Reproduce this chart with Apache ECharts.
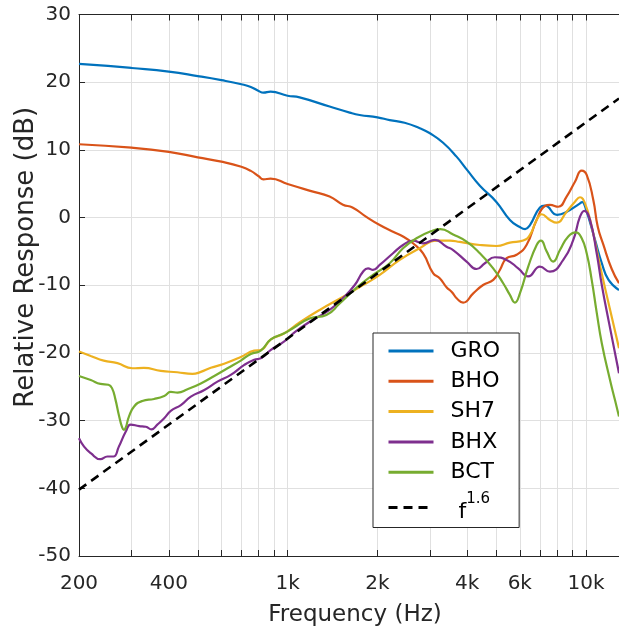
<!DOCTYPE html>
<html><head><meta charset="utf-8">
<script src="https://cdn.jsdelivr.net/npm/echarts@6/dist/echarts.min.js"></script>
<style>html,body{margin:0;padding:0;background:#fff}#c{width:619px;height:630px}</style>
</head><body><div id="c"></div>
<script>
const seriesNames = ['GRO','BHO','SH7','BHX','BCT','f1.6'];
const seriesColors = ['#0072BD','#D95319','#EDB120','#7E2F8E','#77AC30','#000000'];
const xLabelValues = [200,400,1000,2000,4000,6000,10000];
const xGridValues = [200,300,400,500,600,700,800,900,1000,2000,3000,4000,5000,6000,7000,8000,9000,10000];
const yMin = -50, yMax = 30, yStep = 10;
const xMin = 200, xMax = 12900;

const GRO = [[200,22.7],[250,22.4],[300,22.1],[400,21.55],[500,20.9],[600,20.3],[700,19.7],[753,19.3],[800,18.7],[830,18.45],[877,18.6],[1000,18.0],[1097,17.75],[1383,16.4],[1615,15.5],[1743,15.15],[2000,14.8],[2199,14.4],[2467,14.0],[2773,13.2],[3000,12.45],[3320,11.05],[3683,9.0],[4000,7.0],[4409,4.7],[5000,2.35],[5560,-0.35],[6000,-1.4],[6250,-1.7],[6490,-1.1],[7010,1.5],[7285,1.76],[8000,0.4],[8500,0.7],[9550,2.1],[9700,2.3],[9920,1.7],[10720,-3.3],[11300,-6.75],[11900,-9.2],[12900,-10.7]];
const BHO = [[200,10.83],[300,10.33],[400,9.7],[500,8.9],[600,8.26],[700,7.5],[753,6.9],[800,6.1],[830,5.65],[877,5.75],[1000,4.95],[1200,3.9],[1383,3.1],[1533,1.9],[1650,1.5],[1836,0.1],[2036,-1.1],[2256,-2.1],[2437,-2.8],[2633,-3.8],[2845,-5.3],[3073,-8.2],[3240,-9.0],[3409,-10.3],[3550,-11.0],[3700,-12.0],[3876,-12.57],[4190,-11.2],[4520,-9.96],[4890,-9.2],[5145,-7.74],[5420,-6.0],[5850,-5.5],[6320,-4.05],[6830,-0.35],[7285,1.71],[7570,1.86],[8070,1.6],[8610,3.1],[9185,5.3],[9674,6.93],[10053,6.3],[10580,2.6],[10950,-1.35],[11432,-4.0],[12196,-7.6],[12900,-9.7]];
const SH7 = [[200,-19.8],[219,-20.44],[242,-21.13],[269,-21.5],[302,-22.26],[330,-22.2],[376,-22.66],[427,-22.85],[480,-23.1],[512,-22.8],[553,-22.2],[613,-21.6],[697,-20.6],[773,-19.66],[813,-19.56],[879,-18.0],[975,-17.1],[1097,-15.5],[1281,-13.65],[1574,-11.43],[1836,-9.7],[2036,-8.48],[2376,-6.26],[2773,-4.53],[3155,-3.4],[3497,-3.4],[3778,-3.6],[4409,-4.05],[5015,-4.2],[5559,-3.7],[6160,-3.4],[6487,-2.57],[6834,-0.35],[7101,0.49],[7570,-0.35],[7972,-0.75],[8613,0.87],[9185,2.35],[9547,3.0],[9923,2.1],[10450,-1.35],[11143,-7.1],[12036,-13.6],[12900,-19.3]];
const BHX = [[200,-32.6],[208,-33.84],[219,-34.8],[236,-35.7],[249,-35.3],[261,-35.3],[272,-33.84],[287,-31.6],[298,-30.6],[318,-30.8],[335,-30.9],[350,-31.3],[366,-30.6],[386,-29.65],[406,-28.57],[439,-27.7],[474,-26.45],[526,-25.47],[582,-24.24],[645,-23.25],[716,-21.77],[773,-21.0],[813,-20.8],[879,-19.56],[975,-18.3],[1060,-16.9],[1216,-15.1],[1383,-13.65],[1533,-11.9],[1679,-9.96],[1789,-8.0],[1860,-7.5],[1933,-7.74],[2036,-7.0],[2256,-5.27],[2437,-4.05],[2633,-3.4],[2845,-3.8],[3114,-3.3],[3409,-4.3],[3587,-4.8],[3979,-6.5],[4298,-7.6],[4583,-6.75],[4951,-5.86],[5419,-6.26],[5927,-7.5],[6403,-8.7],[7010,-7.25],[7570,-8.0],[8390,-6.26],[9065,-3.3],[9547,0.13],[9870,1.0],[10313,-0.35],[10860,-5.27],[11300,-10.0],[11950,-15.6],[12900,-23.0]];
const BCT = [[200,-23.4],[219,-24.0],[236,-24.58],[251,-24.7],[258,-25.2],[265,-26.9],[272,-29.16],[279,-31.0],[283,-31.37],[287,-31.0],[294,-29.4],[306,-27.9],[326,-27.1],[357,-26.8],[386,-26.35],[406,-25.76],[428,-25.86],[462,-25.36],[512,-24.5],[568,-23.4],[629,-22.26],[697,-21.13],[753,-20.15],[813,-19.66],[879,-18.0],[975,-17.1],[1042,-16.35],[1185,-14.9],[1349,-14.4],[1495,-12.7],[1700,-10.4],[1933,-8.48],[2199,-6.75],[2437,-4.53],[2703,-3.06],[3073,-1.9],[3250,-1.7],[3587,-2.5],[3979,-3.56],[4409,-5.27],[4886,-7.5],[5278,-9.7],[5559,-11.43],[5777,-12.57],[6005,-11.2],[6403,-7.25],[6834,-4.05],[7063,-3.4],[7382,-5.0],[7766,-6.5],[8179,-4.8],[8721,-2.8],[9256,-2.2],[9674,-3.06],[10053,-5.27],[10450,-9.2],[10860,-14.0],[11300,-18.6],[12036,-24.0],[12512,-27.0],[12900,-29.4]];
const POWER = [[200,-40.2],[12900,17.6]];

const dataList = [GRO,BHO,SH7,BHX,BCT,POWER];
const FONT = 'DejaVu Sans';
const TXT = '#262626';

function fmtFreq(v){ return v >= 1000 ? (v/1000) + 'k' : String(v); }

const series = dataList.map((d,i)=>{
  const dashed = i === 5;
  return {
    name: seriesNames[i], type:'line', data:d, xAxisIndex:0, yAxisIndex:0,
    symbol:'none', showSymbol:false, smooth: dashed ? false : 0.5,
    animation:false, silent:true,
    lineStyle:{ color: seriesColors[i], width: dashed ? 2.6 : 2.2, type: dashed ? [9,6] : 'solid' },
    itemStyle:{ color: seriesColors[i] }
  };
});

const xCommon = {
  type:'log', logBase:10, min:xMin, max:xMax,
  axisLine:{show:true, onZero:false, lineStyle:{color:TXT, width:1}},
  axisTick:{show:true, inside:true, length:6, customValues:xGridValues, lineStyle:{color:TXT, width:1}},
  minorTick:{show:false}, minorSplitLine:{show:false}
};

const option = {
  animation:false,
  backgroundColor:'#fff',
  grid:{left:79, right:0, top:14.5, bottom:74, containLabel:false, outerBoundsMode:'none'},
  xAxis:[
    Object.assign({}, xCommon, {
      position:'bottom',
      name:'Frequency (Hz)', nameLocation:'middle', nameGap:48, nameMoveOverlap:false,
      nameTextStyle:{fontFamily:FONT, fontSize:23, color:TXT, padding:[0,0,0,12]},
      axisLabel:{show:true, customValues:xLabelValues, formatter:fmtFreq, fontFamily:FONT, fontSize:20, color:TXT, margin:18},
      splitLine:{show:true, lineStyle:{color:'#e0e0e0', width:1}}
    }),
    Object.assign({}, xCommon, {
      position:'top',
      axisLabel:{show:false},
      splitLine:{show:false}
    })
  ],
  yAxis:[{
    type:'value', min:yMin, max:yMax, interval:yStep,
    name:'Relative Response (dB)', nameLocation:'middle', nameGap:40, nameMoveOverlap:false,
    nameTextStyle:{fontFamily:FONT, fontSize:26, color:TXT, padding:[0,0,0,56]},
    axisLine:{show:true, onZero:false, lineStyle:{color:TXT, width:1}},
    axisTick:{show:true, inside:true, length:6, lineStyle:{color:TXT, width:1}},
    axisLabel:{fontFamily:FONT, fontSize:20, color:TXT, margin:8},
    splitLine:{show:true, lineStyle:{color:'#e0e0e0', width:1}}
  }],
  legend:{
    show:true, orient:'vertical', left:373, top:333,
    data:seriesNames, selectedMode:false,
    itemWidth:45, itemHeight:14, itemGap:8.3,
    padding:[7,19,4,14],
    backgroundColor:'#ffffff', borderColor:TXT, borderWidth:1, borderRadius:0,
    lineStyle:{width:3},
    itemStyle:{opacity:0},
    formatter:function(n){ return n === 'f1.6' ? '{b|f}{s|1.6}' : n; },
    textStyle:{
      fontFamily:FONT, fontSize:22, color:'#000', lineHeight:22, padding:[0,0,0,12],
      rich:{
        b:{fontFamily:FONT, fontSize:22, color:'#000', lineHeight:32, verticalAlign:'bottom', padding:[0,0,0,8]},
        s:{fontFamily:FONT, fontSize:15, color:'#000', lineHeight:32, verticalAlign:'top'}
      }
    }
  },
  series:series
};

const chart = echarts.init(document.getElementById('c'), null, {renderer:'canvas'});
chart.setOption(option);
</script>
</body></html>
